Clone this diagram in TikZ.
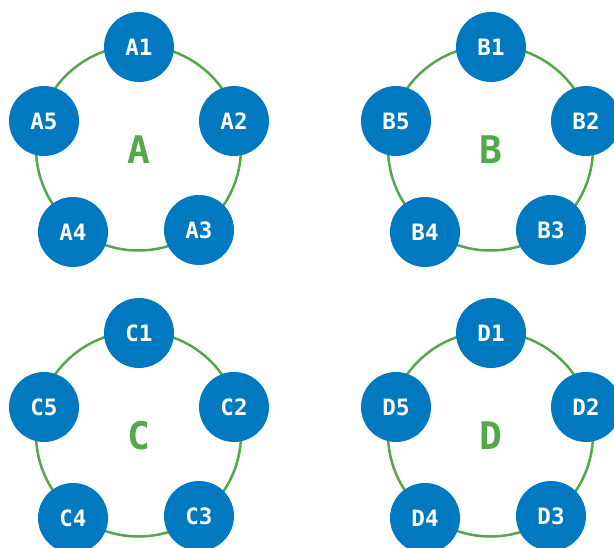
\documentclass[tikz,border=0pt]{standalone}
\usepackage{fontspec}
\setmainfont{DejaVu Sans Mono}
\usetikzlibrary{positioning}
\definecolor{nodeblue}{RGB}{0,121,193}
\definecolor{ringgreen}{RGB}{82,168,75}
\tikzset{
	member/.style = {circle, fill=nodeblue, text=white, minimum size=70pt, inner sep=0pt,
		font=\fontsize{22.5}{26}\selectfont\bfseries},
	ring/.style = {draw=ringgreen, line width=2.5pt},
	ringname/.style = {text=ringgreen, font=\fontsize{38}{42}\selectfont\bfseries}
}

\begin{document}
\begin{tikzpicture}[x=1pt, y=-1pt]
	\useasboundingbox (0,0) rectangle (614,548);
	% ring A
	\draw [ring] (138.5,148) circle [radius = 102.5];
	\node [ringname] (A) at (138.5,150) {A};
	\node [member] (a1) at (139,47) {A1};
	\node [member] (a2) at (234,121) {A2};
	\node [member] (a3) at (199,230) {A3};
	\node [member] (a4) at (73,232) {A4};
	\node [member] (a5) at (44,121) {A5};
	% ring B
	\draw [ring] (490.5,148) circle [radius = 102.5];
	\node [ringname] (B) at (490.5,150) {B};
	\node [member] (b1) at (491,47) {B1};
	\node [member] (b2) at (586,121) {B2};
	\node [member] (b3) at (551,230) {B3};
	\node [member] (b4) at (425,232) {B4};
	\node [member] (b5) at (396,121) {B5};
	% ring C
	\draw [ring] (138.5,434) circle [radius = 102.5];
	\node [ringname] (C) at (138.5,436) {C};
	\node [member] (c1) at (139,333) {C1};
	\node [member] (c2) at (234,407) {C2};
	\node [member] (c3) at (199,516) {C3};
	\node [member] (c4) at (73,518) {C4};
	\node [member] (c5) at (44,407) {C5};
	% ring D
	\draw [ring] (490.5,434) circle [radius = 102.5];
	\node [ringname] (D) at (490.5,436) {D};
	\node [member] (d1) at (491,333) {D1};
	\node [member] (d2) at (586,407) {D2};
	\node [member] (d3) at (551,516) {D3};
	\node [member] (d4) at (425,518) {D4};
	\node [member] (d5) at (396,407) {D5};
\end{tikzpicture}
\end{document}
